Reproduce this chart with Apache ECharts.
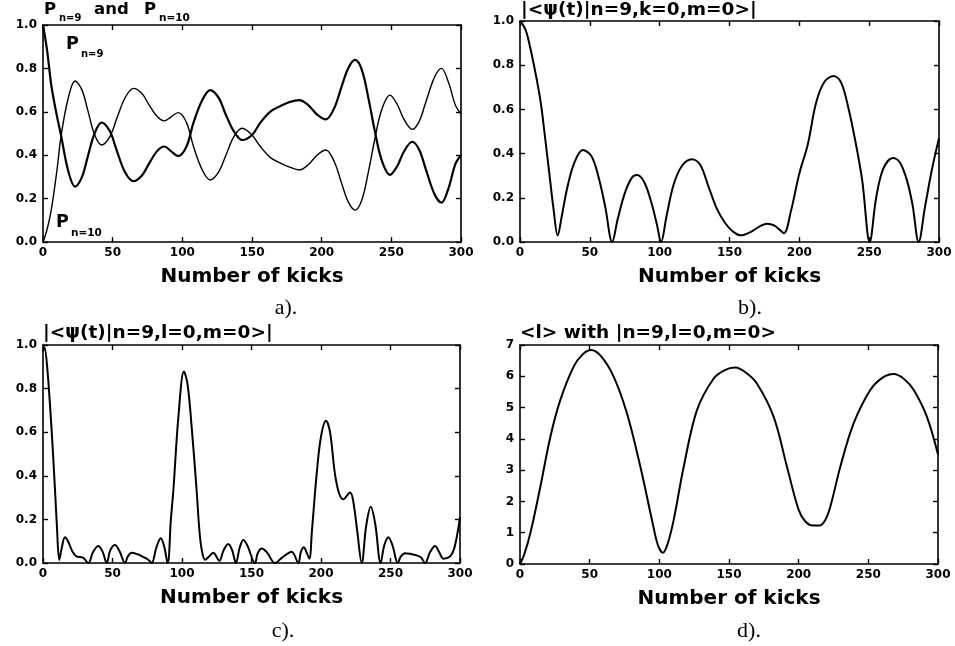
<!DOCTYPE html>
<html>
<head>
<meta charset="utf-8">
<script src="https://cdn.jsdelivr.net/npm/echarts@6/dist/echarts.min.js"></script>
<style>
  html, body { margin: 0; padding: 0; background: #fff; }
  #main { width: 955px; height: 646px; }
</style>
</head>
<body>
<div id="main"></div>
<script>
// panel a: P_n=9 (thick) and P_n=10 (thin)
var kicksA = [0, 3, 6, 10, 13, 18, 23, 28, 32, 37, 42, 48, 53, 59, 65, 71, 76, 82, 87, 92, 97, 103, 108, 114, 120, 126, 131, 137, 143, 150, 156, 163, 170, 177, 184, 190, 197, 203, 209, 214, 219, 224, 229, 234, 238, 243, 249, 254, 259, 265, 270, 275, 281, 286, 291, 296, 300];
var pN9 = [1.0, 0.88, 0.72, 0.58, 0.49, 0.33, 0.255, 0.30, 0.39, 0.50, 0.55, 0.51, 0.42, 0.32, 0.28, 0.306, 0.36, 0.42, 0.44, 0.418, 0.396, 0.44, 0.55, 0.65, 0.70, 0.665, 0.59, 0.51, 0.47, 0.493, 0.55, 0.60, 0.625, 0.645, 0.654, 0.633, 0.586, 0.565, 0.617, 0.71, 0.80, 0.839, 0.79, 0.648, 0.516, 0.378, 0.309, 0.347, 0.416, 0.462, 0.425, 0.33, 0.22, 0.181, 0.247, 0.36, 0.40];
var pN10 = [0.0, 0.06, 0.15, 0.33, 0.49, 0.66, 0.742, 0.70, 0.61, 0.495, 0.447, 0.486, 0.57, 0.666, 0.708, 0.684, 0.633, 0.578, 0.558, 0.577, 0.596, 0.55, 0.44, 0.336, 0.286, 0.322, 0.395, 0.486, 0.524, 0.493, 0.44, 0.39, 0.365, 0.345, 0.332, 0.354, 0.402, 0.424, 0.371, 0.277, 0.186, 0.147, 0.197, 0.338, 0.47, 0.608, 0.677, 0.637, 0.566, 0.519, 0.556, 0.65, 0.76, 0.80, 0.736, 0.63, 0.59];

// panel b: |<psi(t)|n=9,k=0,m=0>|
var kicksB = [0, 4, 8, 12, 15, 18, 21, 24, 27, 30, 34, 39, 45, 51, 56, 61, 66, 70, 75, 80, 84, 89, 94, 98, 101, 105, 110, 116, 123, 129, 135, 141, 147, 152, 158, 165, 172, 177, 182, 186, 189, 194, 200, 206, 212, 218, 224.6, 230, 235, 240, 245, 250.4, 255, 260, 267, 272, 277, 281, 285.4, 290, 295, 300];
var overlapK = [1.0, 0.96, 0.86, 0.735, 0.625, 0.47, 0.31, 0.15, 0.03, 0.12, 0.25, 0.36, 0.416, 0.39, 0.30, 0.16, 0.0, 0.105, 0.22, 0.29, 0.303, 0.27, 0.18, 0.08, 0.0, 0.12, 0.26, 0.345, 0.375, 0.35, 0.25, 0.15, 0.085, 0.05, 0.03, 0.045, 0.072, 0.083, 0.075, 0.055, 0.04, 0.14, 0.31, 0.44, 0.63, 0.725, 0.751, 0.72, 0.61, 0.46, 0.28, 0.0, 0.2, 0.33, 0.38, 0.36, 0.28, 0.17, 0.0, 0.16, 0.33, 0.47];

// panel c: |<psi(t)|n=9,l=0,m=0>|
var kicksC = [0, 1, 3, 6, 8.6, 10, 11.7, 13.5, 15.8, 18, 21, 24, 28.8, 32.6, 36, 39.8, 43, 45.8, 48.5, 51.8, 55, 59, 61, 63.8, 68, 72, 75.7, 78.2, 81.5, 84.7, 87, 89.7, 92, 93.8, 97.4, 101.4, 104, 107, 110.5, 112.5, 114.2, 116.6, 119.5, 122.5, 126.9, 130, 133.3, 136, 138.8, 141.5, 144.1, 147, 152.5, 154.5, 157.3, 161, 166.9, 172, 178.9, 183.7, 185.5, 187.8, 189.5, 191.6, 193.5, 196.9, 200, 203.6, 206.5, 210, 213, 216, 220.9, 223, 226, 229.3, 232.5, 235.8, 239, 242.9, 245.5, 248.4, 251.5, 255.2, 257.5, 260.4, 264, 268.8, 272, 274.8, 278.5, 282, 285, 288, 292.8, 295.5, 298, 300];
var overlapL = [0.97, 0.99, 0.90, 0.63, 0.34, 0.17, 0.014, 0.07, 0.118, 0.10, 0.055, 0.03, 0.025, 0.0, 0.05, 0.078, 0.05, 0.0, 0.06, 0.083, 0.055, 0.0, 0.03, 0.047, 0.04, 0.028, 0.015, 0.0, 0.07, 0.113, 0.08, 0.0, 0.2, 0.335, 0.67, 0.878, 0.82, 0.62, 0.335, 0.15, 0.06, 0.015, 0.03, 0.047, 0.01, 0.06, 0.087, 0.06, 0.0, 0.07, 0.105, 0.08, 0.0, 0.045, 0.067, 0.05, 0.0, 0.025, 0.052, 0.0, 0.05, 0.072, 0.05, 0.02, 0.15, 0.41, 0.58, 0.653, 0.6, 0.41, 0.32, 0.292, 0.323, 0.29, 0.15, 0.0, 0.17, 0.258, 0.18, 0.0, 0.08, 0.118, 0.08, 0.0, 0.03, 0.045, 0.042, 0.035, 0.025, 0.0, 0.05, 0.078, 0.05, 0.02, 0.03, 0.06, 0.13, 0.21];

// panel d: <l> with |n=9,l=0,m=0>
var kicksD = [0, 3, 7.4, 14.6, 21.8, 28.9, 38.5, 45, 51, 58, 67.2, 76.8, 86.4, 94.7, 99, 102.6, 106, 110.3, 117.5, 127, 139, 147, 154.5, 162, 170, 182, 191.6, 200, 205, 210, 215, 219, 222.7, 229.9, 239.5, 251.4, 260, 268.2, 276, 282.6, 292, 300];
var meanL = [0, 0.3, 0.98, 2.47, 4.07, 5.24, 6.31, 6.7, 6.84, 6.65, 5.99, 4.81, 3.11, 1.41, 0.6, 0.36, 0.65, 1.41, 3.11, 4.92, 5.93, 6.2, 6.28, 6.12, 5.77, 4.71, 3.11, 1.73, 1.35, 1.23, 1.23, 1.4, 1.83, 3.11, 4.5, 5.56, 5.95, 6.07, 5.9, 5.56, 4.71, 3.5];

var xTicks = [0, 300, 50];
var yTicksProb = [0, 1, 0.2];
var yTicksL = [0, 7, 1];

var SANS = 'DejaVu Sans';
var SERIF = 'Liberation Serif';

function zip(xs, ys) {
    return xs.map(function (x, i) { return [x, ys[i]]; });
}

var grids = [
    {left: 43, top: 25, width: 418, height: 217},
    {left: 520, top: 21, width: 419, height: 221},
    {left: 43, top: 345, width: 417, height: 218},
    {left: 520, top: 345, width: 418, height: 219}
];

var frame = {onZero: false, lineStyle: {color: '#000', width: 1.6}};
var tick = {show: true, inside: true, length: 5, lineStyle: {color: '#000', width: 1.4}};
var labelFont = {color: '#000', fontFamily: SANS, fontWeight: 'bold', fontSize: 12};

var xAxes = [], yAxes = [];
grids.forEach(function (g, i) {
    var yt = i === 3 ? yTicksL : yTicksProb;
    xAxes.push({
        type: 'value', gridIndex: i, position: 'bottom',
        min: xTicks[0], max: xTicks[1], interval: xTicks[2],
        axisLine: frame, axisTick: tick, splitLine: {show: false},
        axisLabel: Object.assign({margin: 5}, labelFont),
        name: 'Number of kicks', nameLocation: 'middle', nameGap: 25,
        nameTextStyle: {color: '#000', fontFamily: SANS, fontWeight: 'bold', fontSize: 20}
    });
    xAxes.push({
        type: 'value', gridIndex: i, position: 'top',
        min: xTicks[0], max: xTicks[1], interval: xTicks[2],
        axisLine: frame, axisTick: tick, splitLine: {show: false},
        axisLabel: {show: false}
    });
    yAxes.push({
        type: 'value', gridIndex: i, position: 'left',
        min: yt[0], max: yt[1], interval: yt[2],
        axisLine: frame, axisTick: tick, splitLine: {show: false},
        axisLabel: Object.assign({
            margin: 6,
            formatter: function (v) { return i === 3 ? String(v) : v.toFixed(1); }
        }, labelFont)
    });
    yAxes.push({
        type: 'value', gridIndex: i, position: 'right',
        min: yt[0], max: yt[1], interval: yt[2],
        axisLine: frame, axisTick: tick, splitLine: {show: false},
        axisLabel: {show: false}
    });
});

function curve(name, xs, ys, panel, width) {
    return {
        name: name, type: 'line', xAxisIndex: panel * 2, yAxisIndex: panel * 2,
        data: zip(xs, ys), showSymbol: false, smooth: 0.35,
        lineStyle: {color: '#000', width: width}, silent: true
    };
}

// text pieces: big letters and subscripts placed separately
function txt(x, y, s, size) {
    return {type: 'text', x: x, y: y, style: {
        text: s, fontSize: size, fontWeight: 'bold', fontFamily: SANS,
        fill: '#000', verticalAlign: 'middle'
    }};
}
function cap(x, y, s) {
    return {type: 'text', x: x, y: y, style: {
        text: s, fontSize: 22, fontFamily: SERIF, fill: '#000',
        align: 'center', verticalAlign: 'middle'
    }};
}

var option = {
    backgroundColor: '#fff',
    animation: false,
    grid: grids,
    xAxis: xAxes,
    yAxis: yAxes,
    series: [
        curve('P n=9', kicksA, pN9, 0, 2.2),
        curve('P n=10', kicksA, pN10, 0, 1.4),
        curve('|<psi(t)|n=9,k=0,m=0>|', kicksB, overlapK, 1, 2),
        curve('|<psi(t)|n=9,l=0,m=0>|', kicksC, overlapL, 2, 2),
        curve('<l>', kicksD, meanL, 3, 2)
    ],
    graphic: [
        txt(44, 10, 'P', 16.5), txt(59, 18, 'n=9', 10), txt(94, 10, 'and', 16.5),
        txt(144, 10, 'P', 16.5), txt(159, 18, 'n=10', 10.5),
        txt(521, 10, '|<\u03c8(t)|n=9,k=0,m=0>|', 18.5),
        txt(43, 333, '|<\u03c8(t)|n=9,l=0,m=0>|', 18.5),
        txt(520, 333, '<l> with |n=9,l=0,m=0>', 18.5),
        txt(66, 44, 'P', 17.5), txt(81, 54, 'n=9', 10),
        txt(56, 222, 'P', 17.5), txt(71, 233, 'n=10', 10.5),
        cap(286, 308, 'a).'), cap(750, 308, 'b).'),
        cap(283, 631, 'c).'), cap(749, 631, 'd).')
    ]
};

var chart = echarts.init(document.getElementById('main'));
chart.setOption(option);
</script>
</body>
</html>
